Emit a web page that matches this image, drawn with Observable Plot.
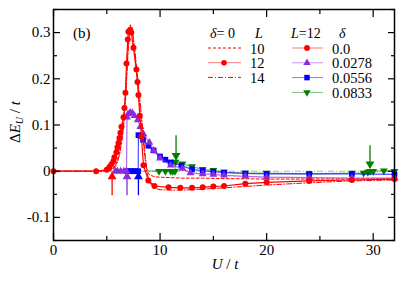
<!DOCTYPE html>
<html><head><meta charset="utf-8">
<script src="https://cdn.jsdelivr.net/npm/d3@7"></script>
<script src="https://cdn.jsdelivr.net/npm/@observablehq/plot@0.6"></script>
<style>
html,body{margin:0;padding:0;background:#fff;}
#wrap{position:relative;width:403px;height:281px;overflow:hidden;}
#wrap svg{display:block;}
#over{position:absolute;left:0;top:0;pointer-events:none;}
</style></head><body><div id="wrap"></div>
<script>
// ---- data ----
const uL10 = [0, 5, 5.5, 5.8, 6.0, 6.2, 6.4, 6.6, 6.8, 7.0, 7.2, 7.4, 7.6, 7.8, 8.0, 8.2, 8.4, 8.6, 8.8, 9.0, 9.5, 10, 11, 12, 14, 16, 20, 24, 28, 32];
const vL10 = [0, 0, 0.004, 0.012, 0.022, 0.04, 0.07, 0.11, 0.18, 0.27, 0.317, 0.30, 0.26, 0.21, 0.165, 0.12, 0.07, 0.025, 0.0, -0.008, -0.012, -0.013, -0.014, -0.015, -0.015, -0.016, -0.017, -0.017, -0.017, -0.017];
const uL14 = [0, 5, 5.5, 5.8, 6.0, 6.2, 6.4, 6.6, 6.8, 7.0, 7.2, 7.4, 7.6, 7.8, 8.0, 8.2, 8.4, 8.6, 8.8, 9.0, 9.5, 10, 11, 12, 14, 16, 20, 24, 28, 32];
const vL14 = [0, 0, 0.003, 0.01, 0.02, 0.036, 0.064, 0.10, 0.17, 0.26, 0.31, 0.305, 0.27, 0.225, 0.18, 0.135, 0.085, 0.035, -0.005, -0.025, -0.037, -0.04, -0.041, -0.041, -0.039, -0.036, -0.03, -0.025, -0.021, -0.019];
const uD0 = [0, 4, 5, 5.25, 5.44, 5.63, 5.72, 5.9, 6.0, 6.1, 6.19, 6.28, 6.38, 6.57, 6.66, 6.75, 6.85, 6.97, 7.03, 7.2, 7.3, 7.5, 7.78, 7.88, 7.97, 8.1, 8.25, 8.44, 8.9, 9.47, 10.8, 11.9, 13, 14, 15, 16, 18, 20, 24, 28, 32];
const vD0 = [0, 0, 0.003, 0.009, 0.015, 0.022, 0.03, 0.041, 0.052, 0.061, 0.072, 0.083, 0.096, 0.117, 0.137, 0.17, 0.233, 0.285, 0.302, 0.306, 0.300, 0.267, 0.22, 0.193, 0.165, 0.12, 0.075, 0.013, -0.02, -0.032, -0.035, -0.036, -0.036, -0.035, -0.033, -0.032, -0.027, -0.024, -0.021, -0.019, -0.017];
const uD1 = [5.8, 6.0, 6.3, 6.6, 6.85, 6.9, 7.0, 7.2, 7.4, 7.6, 7.9, 8.15, 8.45, 9.0, 9.4, 10, 11, 12.1, 12.85, 14, 15, 16, 18, 20, 24, 28, 32];
const vD1 = [0, 0, 0, 0, 0, 0.117, 0.124, 0.127, 0.126, 0.12, 0.111, 0.096, 0.08, 0.062, 0.045, 0.028, 0.013, 0.006, -0.004, -0.006, -0.007, -0.009, -0.011, -0.013, -0.014, -0.015, -0.015];
const uD2 = [6.9, 7.1, 7.3, 7.5, 7.7, 7.95, 7.97, 8.2, 8.4, 8.9, 9.4, 10, 10.5, 11, 12, 13, 14, 15, 16, 18, 20, 24, 28, 32];
const vD2 = [0, 0, 0, 0, 0, 0, 0.078, 0.077, 0.068, 0.055, 0.045, 0.032, 0.025, 0.019, 0.012, 0.004, 0.001, -0.001, -0.003, -0.005, -0.006, -0.006, -0.006, -0.007];
const uD3 = [8.5, 9.9, 10.5, 11, 11.2, 11.4, 11.45, 12.1, 13, 14, 15, 16, 18, 20, 24, 28, 29.1, 29.5, 29.7, 30, 31, 32];
const vD3 = [0, 0, 0, 0, 0, 0, 0.02, 0.016, 0.01, 0.004, 0.002, -0.002, -0.004, -0.004, -0.006, -0.004, -0.004, -0.002, 0.0, 0.0, 0.001, 0.0];
// arrows: U position, tail value, tip value
const arrowU    = [5.5, 6.9, 7.97, 11.5, 29.7];
const arrowFrom = [-0.052, -0.052, -0.052, 0.078, 0.056];
const arrowTo   = [-0.003, -0.003, -0.003, 0.025, 0.007];
const arrowCol  = ["#ff0000", "#8a2be2", "#0000ff", "#008000", "#008000"];
const xTicks = [0, 10, 20, 30];
const xMinor = [5, 15, 25];
const yTicks = [-0.1, 0, 0.1, 0.2, 0.3];
const yMinor = [-0.15, -0.05, 0.05, 0.15, 0.25, 0.35];

const RED = "#ff0000", PUR = "#8a2be2", BLU = "#0000ff", GRN = "#008000";
const rows = (u, v) => u.map((x, i) => ({U: x, v: v[i]}));
const L10 = rows(uL10, vL10), L14 = rows(uL14, vL14), D0 = rows(uD0, vD0),
      D1 = rows(uD1, vD1), D2 = rows(uD2, vD2), D3 = rows(uD3, vD3);
const arrows = arrowU.map((u, i) => ({U: u, y1: arrowFrom[i], y2: arrowTo[i], c: arrowCol[i], down: arrowFrom[i] > arrowTo[i]}));
const upA = arrows.filter(d => !d.down), downA = arrows.filter(d => d.down);

const font = "'Liberation Serif', 'Times New Roman', serif";
const tickAxes = (anchor, isX) => {
  const A = isX ? Plot.axisX : Plot.axisY;
  return [
    A(isX ? xTicks : yTicks, {anchor, tickSize: -7, tickFormat: () => "", strokeWidth: 1.2}),
    A(isX ? xMinor : yMinor, {anchor, tickSize: -4, tickFormat: () => "", strokeWidth: 1.2})
  ];
};

const chart = Plot.plot({
  width: 403, height: 281,
  marginLeft: 53, marginRight: 9, marginTop: 9, marginBottom: 41,
  x: {domain: [0, 32]},
  y: {domain: [-0.15, 0.35]},
  style: {fontFamily: font, fontSize: "15px", background: "#fff", color: "#000"},
  marks: [
    Plot.ruleY([0], {stroke: "#b0b0b0", strokeWidth: 1, strokeDasharray: "6,2,1,2"}),
    Plot.line(D3, {x: "U", y: "v", stroke: GRN, strokeOpacity: 0.55, strokeWidth: 1.2}),
    Plot.dot(D3.filter(d => d.U >= 9.5), {x: "U", y: "v", symbol: "triangle", rotate: 180, r: 2.9, fill: GRN}),
    Plot.line(D2, {x: "U", y: "v", stroke: BLU, strokeOpacity: 0.7, strokeWidth: 1.2}),
    Plot.dot(D2, {x: "U", y: "v", symbol: "square", r: 3.2, fill: BLU}),
    Plot.line(D1, {x: "U", y: "v", stroke: PUR, strokeOpacity: 0.7, strokeWidth: 1.2}),
    Plot.dot(D1, {x: "U", y: "v", symbol: "triangle", r: 2.9, fill: PUR}),
    Plot.line(L10, {x: "U", y: "v", stroke: RED, strokeWidth: 1, strokeDasharray: "3,2"}),
    Plot.line(L14, {x: "U", y: "v", stroke: RED, strokeWidth: 1, strokeDasharray: "5,2,1,2"}),
    Plot.line(D0, {x: "U", y: "v", stroke: RED, strokeWidth: 1.2}),
    Plot.dot(D0, {x: "U", y: "v", r: 3, fill: RED}),
    Plot.link(arrows, {x1: "U", x2: "U", y1: "y1", y2: "y2", stroke: d => d.c, strokeWidth: 1.3}),
    Plot.dot(upA, {x: "U", y: "y2", fill: d => d.c, symbol: "triangle", r: 3.3, dy: 4}),
    Plot.dot(downA, {x: "U", y: "y2", fill: d => d.c, symbol: "triangle", r: 3.3, rotate: 180, dy: -4}),
    Plot.frame({stroke: "#000", strokeWidth: 1.5}),
    Plot.axisX(xTicks, {anchor: "bottom", tickSize: 0, tickPadding: 4, fontSize: 15, fontFamily: font, tickFormat: d => String(d)}),
    Plot.axisY(yTicks, {anchor: "left", tickSize: 0, tickPadding: 3, fontSize: 15, fontFamily: font, tickFormat: d => String(d)}),
    ...tickAxes("bottom", true), ...tickAxes("top", true),
    ...tickAxes("left", false), ...tickAxes("right", false)
  ]
});
chart.querySelectorAll("[aria-label='x-axis label'], [aria-label='y-axis label']").forEach(n => n.remove());
document.getElementById("wrap").appendChild(chart);

// ---- overlay: legend, panel label, axis titles ----
const ov = d3.select("#wrap").append("svg").attr("id", "over").attr("width", 403).attr("height", 281)
  .style("font-family", font).style("font-size", "15px");
const txt = (x, y, parts, anchor = "start", size) => {
  const t = ov.append("text").attr("x", x).attr("y", y).attr("text-anchor", anchor);
  if (size) t.attr("font-size", size);
  parts.forEach(p => {
    const s = t.append("tspan").text(p.t);
    if (p.i) s.attr("font-style", "italic");
  });
  return t;
};
txt(73, 38, [{t: "(b)"}]);
txt(210, 37.5, [{t: "δ", i: 1}, {t: "= 0"}], "start", "14px");
txt(255, 37.5, [{t: "L", i: 1}], "start", "14px");
txt(291, 37.5, [{t: "L", i: 1}, {t: "=12"}], "start", "14px");
txt(339, 37.5, [{t: "δ", i: 1}], "start", "14px");
const leg1 = [{lab: "10", dash: "3,2", dot: false}, {lab: "12", dash: null, dot: true}, {lab: "14", dash: "5,2,1,2", dot: false}];
leg1.forEach((d, i) => {
  const y = 48 + i * 14.7;
  ov.append("line").attr("x1", 208).attr("x2", 241).attr("y1", y).attr("y2", y)
    .attr("stroke", RED).attr("stroke-width", 1).attr("stroke-opacity", d.dot ? 0.5 : 1).attr("stroke-dasharray", d.dash);
  if (d.dot) ov.append("circle").attr("cx", 224).attr("cy", y).attr("r", 2.8).attr("fill", RED);
  txt(250, y + 5.5, [{t: d.lab}], "start", "14.5px");
});
const leg2 = [{lab: "0.0", c: RED, s: d3.symbolCircle, rot: 0, size: 26},
              {lab: "0.0278", c: PUR, s: d3.symbolTriangle, rot: 0, size: 24},
              {lab: "0.0556", c: BLU, s: d3.symbolSquare, rot: 0, size: 30},
              {lab: "0.0833", c: GRN, s: d3.symbolTriangle, rot: 180, size: 24}];
leg2.forEach((d, i) => {
  const y = 48 + i * 14.8;
  ov.append("line").attr("x1", 292).attr("x2", 323).attr("y1", y).attr("y2", y)
    .attr("stroke", d.c).attr("stroke-width", 1).attr("stroke-opacity", 0.5);
  ov.append("path").attr("d", d3.symbol(d.s, d.size)()).attr("fill", d.c)
    .attr("transform", `translate(307,${y}) rotate(${d.rot})`);
  txt(332, y + 5.5, [{t: d.lab}], "start", "14.5px");
});
txt(225, 269, [{t: "U", i: 1}, {t: " / "}, {t: "t", i: 1}], "middle");
const yl = ov.append("text").attr("transform", "translate(20,122) rotate(-90)").attr("text-anchor", "middle");
yl.append("tspan").text("Δ");
yl.append("tspan").text("E").attr("font-style", "italic");
yl.append("tspan").text("U").attr("font-style", "italic").attr("font-size", "10px").attr("dy", 3);
yl.append("tspan").text(" / ").attr("dy", -3);
yl.append("tspan").text("t").attr("font-style", "italic");
</script></body></html>
